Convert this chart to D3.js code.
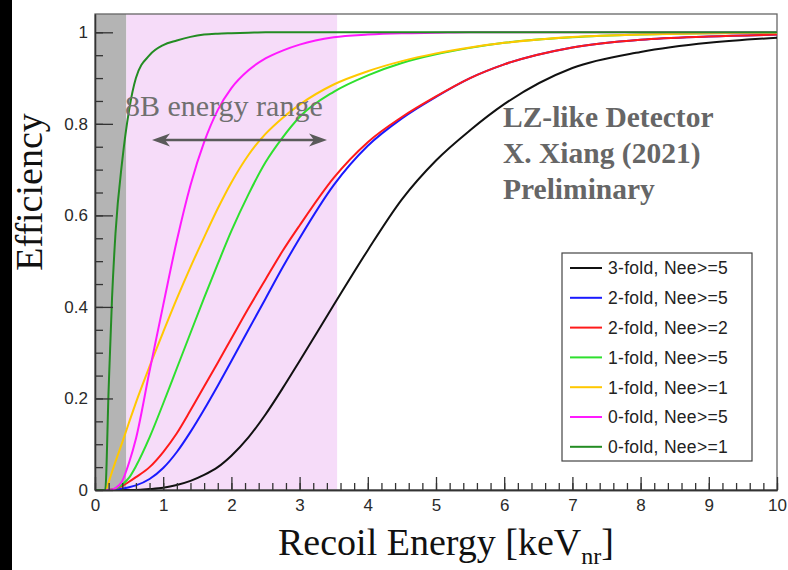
<!DOCTYPE html>
<html>
<head>
<meta charset="utf-8">
<script src="https://cdn.jsdelivr.net/npm/d3@7/dist/d3.min.js"></script>
<style>
  html, body { margin: 0; padding: 0; background: #fff; }
  svg { display: block; }
</style>
</head>
<body>
<svg id="chart" width="788" height="570"></svg>
<script>
// Recoil energy grid (keV_nr) shared by all efficiency curves
const energy = [0, 0.15, 0.2, 0.25, 0.3, 0.4, 0.5, 0.6, 0.8, 1.0, 1.2, 1.4, 1.6, 1.8, 2.0,
                2.25, 2.5, 2.75, 3.0, 3.5, 4.0, 4.5, 5.0, 5.5, 6, 7, 8, 9, 10];

const eff3fold5 = [0, 0, 0, 0, 0, 0, 0, 0, 0.002, 0.005, 0.011, 0.02, 0.033, 0.05, 0.075,
                   0.115, 0.165, 0.222, 0.282, 0.404, 0.524, 0.635, 0.72, 0.786, 0.843, 0.922, 0.957, 0.977, 0.988];
const eff2fold5 = [0, 0, 0, 0, 0.001, 0.003, 0.006, 0.01, 0.024, 0.048, 0.083, 0.127, 0.176, 0.228, 0.282,
                   0.35, 0.418, 0.486, 0.55, 0.666, 0.752, 0.812, 0.859, 0.9, 0.93, 0.967, 0.984, 0.991, 0.995];
const eff2fold2 = [0, 0, 0, 0.001, 0.003, 0.009, 0.018, 0.028, 0.05, 0.083, 0.124, 0.174, 0.226, 0.278, 0.331,
                   0.397, 0.46, 0.522, 0.578, 0.682, 0.76, 0.815, 0.86, 0.9, 0.93, 0.967, 0.984, 0.991, 0.995];
const eff1fold5 = [0, 0, 0, 0.001, 0.003, 0.012, 0.027, 0.052, 0.115, 0.189, 0.266, 0.343, 0.42, 0.494, 0.566,
                   0.646, 0.716, 0.77, 0.815, 0.87, 0.906, 0.933, 0.952, 0.966, 0.977, 0.989, 0.995, 0.998, 0.999];
const eff1fold1 = [0, 0, 0.017, 0.04, 0.062, 0.104, 0.148, 0.191, 0.27, 0.345, 0.418, 0.487, 0.552, 0.615, 0.672,
                   0.732, 0.778, 0.813, 0.842, 0.886, 0.915, 0.937, 0.954, 0.967, 0.977, 0.99, 0.995, 0.998, 0.999];
const eff0fold5 = [0, 0, 0, 0.001, 0.004, 0.02, 0.06, 0.112, 0.26, 0.404, 0.545, 0.666, 0.76, 0.83, 0.878,
                   0.917, 0.943, 0.96, 0.973, 0.989, 0.995, 0.998, 0.999, 1, 1, 1, 1, 1, 1];
const eff0fold1 = [0, 0, 0.22, 0.42, 0.56, 0.72, 0.83, 0.9, 0.95, 0.972, 0.982, 0.99, 0.995, 0.997, 0.998,
                   0.999, 1, 1, 1, 1, 1, 1, 1, 1, 1, 1, 1, 1, 1];

const seriesNames  = ["3-fold, Nee>=5", "2-fold, Nee>=5", "2-fold, Nee>=2", "1-fold, Nee>=5",
                      "1-fold, Nee>=1", "0-fold, Nee>=5", "0-fold, Nee>=1"];
const seriesValues = [eff3fold5, eff2fold5, eff2fold2, eff1fold5, eff1fold1, eff0fold5, eff0fold1];
const seriesColors = ["#111111", "#1a1aff", "#ff1a1a", "#2ee02e", "#ffc800", "#ff1aff", "#238c23"];

// Shaded energy regions (keV_nr)
const belowThreshold = [0, 0.46];
const boronRange     = [0.46, 3.55];

const xTicks = [0, 1, 2, 3, 4, 5, 6, 7, 8, 9, 10];
const yTicks = [0, 0.2, 0.4, 0.6, 0.8, 1];

const svg = d3.select("#chart");
const padL = 95, padR = 777, padT = 14, padB = 490;

const x = d3.scaleLinear().domain([0, 10]).range([padL, padR]);
const y = d3.scaleLinear().domain([0, 1.04]).range([padB, padT]);

// dark strip at the left edge
svg.append("rect").attr("x", 0).attr("y", 0).attr("width", 12).attr("height", 570).attr("fill", "#000");

// shaded regions
svg.append("rect")
  .attr("x", x(belowThreshold[0])).attr("y", padT)
  .attr("width", x(belowThreshold[1]) - x(belowThreshold[0])).attr("height", padB - padT)
  .attr("fill", "#b4b4b4");
svg.append("rect")
  .attr("x", x(boronRange[0])).attr("y", padT)
  .attr("width", x(boronRange[1]) - x(boronRange[0])).attr("height", padB - padT)
  .attr("fill", "#f6dcf9");

// frame
svg.append("rect")
  .attr("x", padL).attr("y", padT).attr("width", padR - padL).attr("height", padB - padT)
  .attr("fill", "none").attr("stroke", "#666").attr("stroke-width", 1.3);

// curves
const line = d3.line()
  .x((d, i) => x(energy[i]))
  .y(d => y(d))
  .curve(d3.curveMonotoneX);

seriesValues.forEach((vals, k) => {
  svg.append("path")
    .datum(vals)
    .attr("d", line)
    .attr("fill", "none")
    .attr("stroke", seriesColors[k])
    .attr("stroke-width", 2)
    .attr("stroke-linejoin", "round");
});

// axes with inward ticks
const tickFont = "'Liberation Sans', Arial, Helvetica, sans-serif";

const yMajor = d3.axisLeft(y).tickValues(yTicks).tickSizeInner(-18).tickSizeOuter(0).tickPadding(7)
  .tickFormat(d3.format("~g"));
const yMinor = d3.axisLeft(y).tickValues(d3.range(0, 1.04, 0.05)).tickSizeInner(-8).tickSizeOuter(0).tickFormat("");
const xMajor = d3.axisBottom(x).tickValues(xTicks).tickSizeInner(-13).tickSizeOuter(0).tickPadding(9)
  .tickFormat(d3.format("d"));
const xMinor = d3.axisBottom(x).tickValues(d3.range(0, 10.01, 0.2)).tickSizeInner(-7).tickSizeOuter(0).tickFormat("");

function styleAxis(g) {
  g.selectAll("path.domain").attr("stroke", "#333").attr("stroke-width", 1.3);
  g.selectAll(".tick line").attr("stroke", "#333").attr("stroke-width", 1.3);
  g.selectAll("text").attr("font-family", tickFont).attr("font-size", 17).attr("fill", "#2a2a2a");
}

svg.append("g").attr("transform", `translate(${padL},0)`).call(yMinor).call(styleAxis);
svg.append("g").attr("transform", `translate(${padL},0)`).call(yMajor).call(styleAxis);
svg.append("g").attr("transform", `translate(0,${padB})`).call(xMinor).call(styleAxis);
svg.append("g").attr("transform", `translate(0,${padB})`).call(xMajor).call(styleAxis);

// axis titles
const serif = "'Liberation Serif', 'Times New Roman', Times, serif";
svg.append("text")
  .attr("transform", "translate(42,192) rotate(-90)")
  .attr("text-anchor", "middle")
  .attr("font-family", serif).attr("font-size", 38).attr("fill", "#111")
  .text("Efficiency");

const xt = svg.append("text")
  .attr("x", 278).attr("y", 555)
  .attr("font-family", serif).attr("font-size", 38).attr("fill", "#111");
xt.append("tspan").text("Recoil Energy [keV");
xt.append("tspan").attr("font-size", 24).attr("dy", 9).text("nr");
xt.append("tspan").attr("dy", -9).text("]");

// boron-8 energy range annotation
svg.append("text")
  .attr("x", 125).attr("y", 116)
  .attr("font-family", serif).attr("font-size", 30).attr("fill", "#707070")
  .text("8B energy range");

const arrowY = 140, ax0 = 152, ax1 = 327;
svg.append("line")
  .attr("x1", ax0 + 8).attr("x2", ax1 - 8).attr("y1", arrowY).attr("y2", arrowY)
  .attr("stroke", "#5a5a5a").attr("stroke-width", 2.6);
function arrowHead(tipX, dir) {
  const p = d3.path();
  p.moveTo(tipX, arrowY);
  p.lineTo(tipX + dir * 18, arrowY - 6.5);
  p.lineTo(tipX + dir * 13, arrowY);
  p.lineTo(tipX + dir * 18, arrowY + 6.5);
  p.closePath();
  svg.append("path").attr("d", p.toString()).attr("fill", "#5a5a5a");
}
arrowHead(ax0, 1);
arrowHead(ax1, -1);

// detector label
const labelLines = ["LZ-like Detector", "X. Xiang (2021)", "Preliminary"];
labelLines.forEach((t, i) => {
  svg.append("text")
    .attr("x", 503).attr("y", 127 + i * 36)
    .attr("font-family", serif).attr("font-weight", "bold").attr("font-size", 29.5)
    .attr("fill", "#666")
    .text(t);
});

// legend
const lg = svg.append("g");
lg.append("rect")
  .attr("x", 562).attr("y", 253).attr("width", 190).attr("height", 208)
  .attr("fill", "#fff").attr("stroke", "#444").attr("stroke-width", 1.2);
seriesNames.forEach((name, i) => {
  const cy = 268 + i * 29.8;
  lg.append("line").attr("x1", 570).attr("x2", 602).attr("y1", cy).attr("y2", cy)
    .attr("stroke", seriesColors[i]).attr("stroke-width", 2);
  lg.append("text").attr("x", 608).attr("y", cy).attr("dy", "0.36em")
    .attr("font-family", tickFont).attr("font-size", 17.5).attr("letter-spacing", 0.3)
    .attr("fill", "#222")
    .text(name);
});
</script>
</body>
</html>
